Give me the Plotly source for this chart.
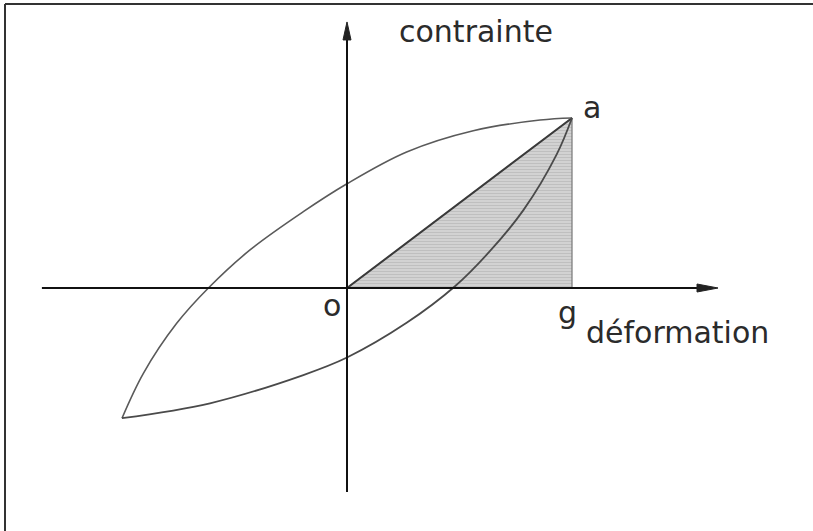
import plotly.graph_objects as go

# Hysteresis loop (deformation, stress) in units where g = 1 and a = (1, 1)
upper_x = [-1.0, -0.905, -0.757, -0.616, -0.431, -0.194, 0.0, 0.265, 0.561, 0.858, 1.0]
upper_y = [-0.766, -0.502, -0.208, 0.0, 0.224, 0.449, 0.613, 0.800, 0.925, 0.988, 1.0]
lower_x = [-1.0, -0.609, -0.194, 0.0, 0.265, 0.48, 0.636, 0.784, 0.932, 1.0]
lower_y = [-0.766, -0.678, -0.512, -0.409, -0.205, 0.01, 0.218, 0.458, 0.786, 1.0]

# Shaded triangle o - a - g
tri_x = [0.0, 1.0, 1.0, 0.0]
tri_y = [0.0, 1.0, 0.0, 0.0]

# Axis extents
x_axis_min, x_axis_max = -1.356, 1.649
y_axis_min, y_axis_max = -1.2, 1.565

labels = ["contrainte", "déformation", "o", "g", "a"]
label_x = [0.573, 1.471, -0.067, 0.982, 1.089]
label_y = [1.508, -0.26, -0.10, -0.146, 1.062]

XR = [-347 / 225, (813 - 347) / 225]
YR = [(288 - 531) / 170, 288 / 170]

fig = go.Figure()

fig.add_trace(go.Scatter(
    x=tri_x, y=tri_y, mode="lines", fill="toself",
    fillcolor="#cdcdcd",
    fillpattern=dict(shape="-", bgcolor="#d2d2d2", fgcolor="#ababab", size=3, solidity=0.35),
    line=dict(color="#777777", width=1.2), hoverinfo="skip", showlegend=False))

fig.add_trace(go.Scatter(
    x=[tri_x[0], tri_x[1]], y=[tri_y[0], tri_y[1]], mode="lines",
    line=dict(color="#3a3a3a", width=2), hoverinfo="skip", showlegend=False))

fig.add_trace(go.Scatter(
    x=upper_x, y=upper_y, mode="lines", line_shape="spline",
    line=dict(color="#5a5a5a", width=1.6), hoverinfo="skip", showlegend=False))
fig.add_trace(go.Scatter(
    x=lower_x, y=lower_y, mode="lines", line_shape="spline",
    line=dict(color="#4a4a4a", width=1.8), hoverinfo="skip", showlegend=False))

# axes lines with arrow heads
hx = 21 / 225
hy = 4 / 170
vx = 4 / 225
vy = 18 / 170
fig.add_trace(go.Scatter(
    x=[x_axis_min, x_axis_max - hx], y=[0, 0], mode="lines",
    line=dict(color="#111111", width=2), hoverinfo="skip", showlegend=False))
fig.add_trace(go.Scatter(
    x=[x_axis_max - hx, x_axis_max, x_axis_max - hx, x_axis_max - hx],
    y=[hy, 0, -hy, hy], mode="lines", fill="toself", fillcolor="#222222",
    line=dict(color="#222222", width=1), hoverinfo="skip", showlegend=False))
fig.add_trace(go.Scatter(
    x=[0, 0], y=[y_axis_min, y_axis_max - vy], mode="lines",
    line=dict(color="#111111", width=2), hoverinfo="skip", showlegend=False))
fig.add_trace(go.Scatter(
    x=[-vx, 0, vx, -vx], y=[y_axis_max - vy, y_axis_max, y_axis_max - vy, y_axis_max - vy],
    mode="lines", fill="toself", fillcolor="#222222",
    line=dict(color="#222222", width=1), hoverinfo="skip", showlegend=False))

for t, lx, ly in zip(labels, label_x, label_y):
    fig.add_annotation(x=lx, y=ly, text=t, showarrow=False,
                       font=dict(family="DejaVu Sans", size=30, color="#2b2b2b"),
                       xanchor="center", yanchor="middle")

# frame lines (left and top) of the scanned figure
fig.add_shape(type="line", xref="paper", yref="paper", x0=5 / 813, x1=5 / 813, y0=0, y1=1 - 4 / 531,
              line=dict(color="#333333", width=2))
fig.add_shape(type="line", xref="paper", yref="paper", x0=5 / 813, x1=1, y0=1 - 4 / 531, y1=1 - 4 / 531,
              line=dict(color="#333333", width=2))

fig.update_layout(
    width=813, height=531, margin=dict(l=0, r=0, t=0, b=0),
    paper_bgcolor="white", plot_bgcolor="white",
    xaxis=dict(range=XR, visible=False, fixedrange=True),
    yaxis=dict(range=YR, visible=False, fixedrange=True),
    showlegend=False,
)

fig.write_html("out.html", config={"displayModeBar": False},
               post_script="document.body.style.margin='0';")
